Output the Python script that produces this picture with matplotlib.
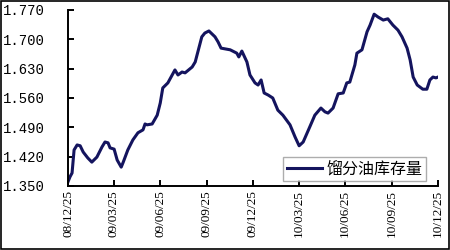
import matplotlib
matplotlib.use("Agg")
import matplotlib.pyplot as plt
import pandas as pd
from matplotlib.patches import Rectangle

# days after 2008-12-25
start = pd.Timestamp("2008-12-25")
days = [0, 4, 8, 12, 18, 24, 30, 39, 47, 57, 67, 73, 79, 83, 91, 97, 105, 109,
        118, 128, 138, 148, 152, 156, 166, 176, 182, 187, 197, 211, 217, 225,
        231, 245, 251, 264, 270, 278, 290, 296, 302, 320, 333, 337, 343, 353,
        359, 369, 375, 381, 387, 395, 404, 414, 424, 438, 448, 456, 464, 477,
        487, 499, 507, 513, 523, 533, 543, 550, 556, 566, 570, 580, 590, 596,
        604, 612, 622, 631, 641, 651, 659, 669, 675, 681, 689, 700, 708, 714,
        720, 726, 730]
stock = [1.360, 1.372, 1.381, 1.436, 1.448, 1.446, 1.431, 1.417, 1.407, 1.419,
         1.443, 1.455, 1.453, 1.441, 1.438, 1.412, 1.395, 1.407, 1.436, 1.460,
         1.477, 1.484, 1.498, 1.496, 1.498, 1.519, 1.548, 1.584, 1.596, 1.627,
         1.615, 1.622, 1.620, 1.634, 1.646, 1.706, 1.715, 1.720, 1.706, 1.694,
         1.679, 1.675, 1.667, 1.658, 1.672, 1.646, 1.615, 1.596, 1.591, 1.603,
         1.572, 1.567, 1.560, 1.531, 1.519, 1.496, 1.467, 1.446, 1.455, 1.491,
         1.519, 1.536, 1.527, 1.524, 1.536, 1.570, 1.572, 1.596, 1.598, 1.639,
         1.667, 1.675, 1.718, 1.734, 1.760, 1.753, 1.746, 1.749, 1.734, 1.722,
         1.706, 1.679, 1.651, 1.610, 1.591, 1.581, 1.581, 1.603, 1.610, 1.608,
         1.610]
dates = start + pd.to_timedelta(days, unit="D")

yticks = [1.350, 1.420, 1.490, 1.560, 1.630, 1.700, 1.770]
xtick_labels = ["08/12/25", "09/03/25", "09/06/25", "09/09/25", "09/12/25",
                "10/03/25", "10/06/25", "10/09/25", "10/12/25"]
xticks = pd.to_datetime(xtick_labels, format="%y/%m/%d")
label = "馏分油库存量"

fig = plt.figure(figsize=(4.5, 2.5), dpi=100)
ax = fig.add_axes([68 / 450, 1 - 186 / 250, 370 / 450, 176 / 250])

ax.plot(dates, stock, color="#14145e", linewidth=2.2, label=label)

ax.set_ylim(1.35, 1.77)
ax.set_yticks(yticks)
ax.set_yticklabels([f"{v:.3f}" for v in yticks], family="Liberation Mono", fontsize=10)
ax.set_xlim(xticks[0], xticks[-1])
ax.set_xticks(xticks)
ax.set_xticklabels(xtick_labels, rotation=90, family="Liberation Serif", fontsize=9.5)

for s in ["top", "right"]:
    ax.spines[s].set_visible(False)
for s in ["left", "bottom"]:
    ax.spines[s].set_linewidth(1.4)
ax.tick_params(axis="both", direction="in", length=4, width=1.4)
ax.tick_params(axis="y", pad=47)
for t in ax.get_yticklabels():
    t.set_ha("left")
ax.tick_params(axis="x", pad=3)

leg = fig.legend(loc="center", bbox_to_anchor=(354.5 / 450, 1 - 169 / 250),
                 prop={"family": "Noto Sans CJK SC", "size": 11.5}, frameon=True,
                 fancybox=False, handlelength=2.2, handletextpad=0.3,
                 borderpad=0.2, borderaxespad=0)
leg.get_frame().set_edgecolor("#999999")
leg.get_frame().set_linewidth(1.0)

fig.patches.append(Rectangle((0.002, 0.004), 0.996, 0.992, transform=fig.transFigure,
                             fill=False, edgecolor="black", linewidth=1.2))

fig.savefig("out.png", dpi=100)
